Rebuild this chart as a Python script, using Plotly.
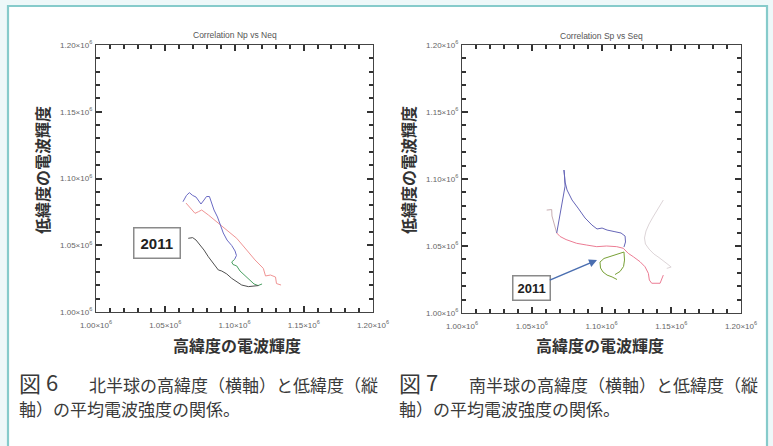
import plotly.graph_objects as go

W, H = 773, 446

# Axis ticks (values in units of 10^6)
tick_vals = [1.00, 1.05, 1.10, 1.15, 1.20]
tick_text = ["1.00×10<sup>6</sup>", "1.05×10<sup>6</sup>", "1.10×10<sup>6</sup>",
             "1.15×10<sup>6</sup>", "1.20×10<sup>6</sup>"]

# Northern hemisphere: high-latitude (x) vs low-latitude (y) mean brightness, ×10^6
n_blue_x = [1.0628, 1.0653, 1.0674, 1.0698, 1.0722, 1.0740, 1.0758, 1.0780, 1.0798, 1.0819,
            1.0835, 1.0852, 1.0877, 1.0899, 1.0919, 1.0946, 1.0980, 1.1004, 1.1014, 1.1000]
n_blue_y = [1.0826, 1.0873, 1.0894, 1.0873, 1.0861, 1.0839, 1.0809, 1.0839, 1.0865, 1.0865,
            1.0816, 1.0764, 1.0712, 1.0652, 1.0592, 1.0539, 1.0498, 1.0457, 1.0423, 1.0393]
n_green_x = [1.1000, 1.0980, 1.0989, 1.1016, 1.1040, 1.1076, 1.1112, 1.1141, 1.1170, 1.1199]
n_green_y = [1.0393, 1.0375, 1.0356, 1.0345, 1.0307, 1.0270, 1.0236, 1.0210, 1.0198, 1.0210]
n_black_x = [1.0666, 1.0698, 1.0722, 1.0751, 1.0780, 1.0811, 1.0847, 1.0883, 1.0908, 1.0944,
             1.0980, 1.1016, 1.1052, 1.1100, 1.1148, 1.1173]
n_black_y = [1.0552, 1.0557, 1.0539, 1.0502, 1.0464, 1.0414, 1.0365, 1.0315, 1.0307, 1.0285,
             1.0252, 1.0227, 1.0202, 1.0190, 1.0195, 1.0198]
n_red_x = [1.0650, 1.0691, 1.0715, 1.0739, 1.0763, 1.0811, 1.0871, 1.0944, 1.1016, 1.1088,
           1.1148, 1.1208, 1.1224, 1.1260, 1.1296, 1.1303, 1.1336]
n_red_y = [1.0816, 1.0771, 1.0739, 1.0751, 1.0764, 1.0727, 1.0676, 1.0614, 1.0552, 1.0464,
           1.0390, 1.0327, 1.0270, 1.0277, 1.0262, 1.0213, 1.0202]

# Southern hemisphere, ×10^6
s_hook_x = [1.0607, 1.0643, 1.0645, 1.0656, 1.0670, 1.0679]
s_hook_y = [1.0768, 1.0772, 1.0724, 1.0679, 1.0634, 1.0597]
s_red_x = [1.0679, 1.0703, 1.0746, 1.0822, 1.0894, 1.0966, 1.1037, 1.1109, 1.1156, 1.1192,
           1.1228, 1.1276, 1.1312, 1.1336, 1.1343, 1.1360, 1.1420, 1.1432, 1.1443]
s_red_y = [1.0597, 1.0571, 1.0548, 1.0520, 1.0507, 1.0495, 1.0500, 1.0495, 1.0483, 1.0445,
           1.0420, 1.0383, 1.0345, 1.0296, 1.0246, 1.0222, 1.0222, 1.0259, 1.0283]
s_blue_x = [1.0679, 1.0699, 1.0721, 1.0739, 1.0735, 1.0731, 1.0739, 1.0753, 1.0789, 1.0832,
            1.0882, 1.0932, 1.0968, 1.1004, 1.1040, 1.1090, 1.1140, 1.1169, 1.1172, 1.1161]
s_blue_y = [1.0597, 1.0724, 1.0858, 1.0947, 1.1022, 1.1067, 1.0977, 1.0918, 1.0843, 1.0783,
            1.0709, 1.0656, 1.0627, 1.0634, 1.0619, 1.0608, 1.0597, 1.0574, 1.0530, 1.0492]
s_green_x = [1.1097, 1.1133, 1.1158, 1.1165, 1.1161, 1.1119, 1.1076, 1.1018, 1.0989, 1.0993,
             1.1011, 1.1040, 1.1076, 1.1111]
s_green_y = [1.0287, 1.0310, 1.0347, 1.0395, 1.0455, 1.0440, 1.0422, 1.0407, 1.0380, 1.0336,
             1.0306, 1.0283, 1.0269, 1.0250]
s_gray_x = [1.1443, 1.1420, 1.1396, 1.1369, 1.1341, 1.1319, 1.1308, 1.1315, 1.1341, 1.1376,
            1.1412, 1.1448, 1.1477, 1.1499, 1.1468]
s_gray_y = [1.0843, 1.0806, 1.0768, 1.0716, 1.0664, 1.0612, 1.0560, 1.0515, 1.0477, 1.0440,
            1.0414, 1.0388, 1.0362, 1.0343, 1.0333]

# Marked start of the latest cycle
label_2011 = "2011"
n_2011_xy = (1.0440, 1.0517)
s_2011_tip = (1.0968, 1.0395)


def px(x):
    return x / W


def py(y):
    return 1 - y / H


fig = go.Figure()


def add_line(x, y, color, xa, ya, width=1.0):
    fig.add_trace(go.Scatter(x=x, y=y, mode="lines", xaxis=xa, yaxis=ya,
                             line=dict(color=color, width=width),
                             hoverinfo="skip", showlegend=False))


add_line(n_red_x, n_red_y, "#f09494", "x", "y")
add_line(n_blue_x, n_blue_y, "#6a6ac4", "x", "y")
add_line(n_green_x, n_green_y, "#4aa062", "x", "y")
add_line(n_black_x, n_black_y, "#505050", "x", "y")

add_line(s_gray_x, s_gray_y, "#ddd5d8", "x2", "y2")
add_line(s_hook_x, s_hook_y, "#c8aeb2", "x2", "y2")
add_line(s_red_x, s_red_y, "#ec7c94", "x2", "y2")
add_line(s_blue_x, s_blue_y, "#6666b8", "x2", "y2")
add_line(s_green_x, s_green_y, "#78a036", "x2", "y2")

tick_font = dict(family="Liberation Sans, Arial", size=8, color="#666")


def axis(domain, anchor, standoff):
    return dict(domain=domain, anchor=anchor, range=[1.0, 1.2],
                tickmode="array", tickvals=tick_vals, ticktext=tick_text,
                ticks="inside", ticklen=6, tickwidth=1.5, tickcolor="#333",
                minor=dict(ticks="inside", ticklen=3.5, tick0=1.0, dtick=0.01,
                           tickcolor="#333", tickwidth=1.5),
                showline=True, linecolor="#444", linewidth=1.2, mirror="ticks",
                showgrid=False, zeroline=False, tickfont=tick_font,
                ticklabelstandoff=standoff, automargin=False, fixedrange=True)


fig.update_layout(
    xaxis=axis([px(96), px(373)], "y", 5),
    yaxis=axis([py(312), py(45)], "x", 1),
    xaxis2=axis([px(462), px(741)], "y2", 5),
    yaxis2=axis([py(313), py(45)], "x2", 1),
)

ann = []
jp = "Noto Sans CJK JP"


def text_at(text, x, y, size, color, family=jp, xanchor="center", angle=0):
    ann.append(dict(text=text, x=px(x), y=py(y), xref="paper", yref="paper",
                    xanchor=xanchor, yanchor="middle", textangle=angle, showarrow=False,
                    font=dict(family=family, size=size, color=color)))


# Panel titles
text_at("Correlation Np vs Neq", 235, 35, 8.5, "#555", family="Liberation Sans")
text_at("Correlation Sp vs Seq", 601, 36, 8.5, "#555", family="Liberation Sans")

# Axis titles
for cx in (42, 408):
    text_at("<b>低緯度の電波輝度</b>", cx, 170, 16, "#333", angle=-90)
for cx in (237, 600):
    text_at("<b>高緯度の電波輝度</b>", cx, 345, 16, "#333")

# "2011" markers
ann.append(dict(text="<b>" + label_2011 + "</b>", x=n_2011_xy[0], y=n_2011_xy[1], xref="x", yref="y",
                xanchor="center", yanchor="middle",
                showarrow=False, bgcolor="white", bordercolor="#8a8a8a", borderwidth=1.5,
                borderpad=6, font=dict(family="Liberation Sans", size=15, color="#222")))
ann.append(dict(text="<b>" + label_2011 + "</b>", x=s_2011_tip[0], y=s_2011_tip[1], xref="x2", yref="y2",
                ax=-66, ay=28, showarrow=True, arrowhead=2, arrowsize=1, arrowwidth=1.6,
                arrowcolor="#4a6eb0", bgcolor="white", bordercolor="#8a8a8a", borderwidth=1.5,
                borderpad=4, font=dict(family="Liberation Sans", size=13, color="#222")))

# Figure captions
cap_color = "#3a3a3a"
captions = [
    (17, "6", "北半球の高緯度（横軸）と低緯度（縦"),
    (397, "7", "南半球の高緯度（横軸）と低緯度（縦"),
]
for x0, num, line1 in captions:
    text_at("図", x0, 382, 22, cap_color, xanchor="left")
    text_at(num, x0 + 27, 381, 22, cap_color, xanchor="left")
    text_at(line1, x0 + 70, 384, 17, cap_color, xanchor="left")
    text_at("軸）の平均電波強度の関係。", x0, 408, 17, cap_color, xanchor="left")

# Page frame: pale cyan margin strips and a teal rule around the white page
frame_fill = "#eef8f9"
frame_line = "#86cbcb"
shapes = [
    dict(type="rect", xref="paper", yref="paper", x0=0, x1=1, y0=py(6), y1=1,
         line=dict(width=0), fillcolor=frame_fill, layer="above"),
    dict(type="rect", xref="paper", yref="paper", x0=0, x1=px(8), y0=0, y1=1,
         line=dict(width=0), fillcolor=frame_fill, layer="above"),
    dict(type="rect", xref="paper", yref="paper", x0=px(767), x1=1, y0=0, y1=1,
         line=dict(width=0), fillcolor=frame_fill, layer="above"),
    dict(type="rect", xref="paper", yref="paper", x0=px(8), x1=px(767), y0=py(460), y1=py(6),
         line=dict(color=frame_line, width=2.2), layer="above"),
]

fig.update_layout(
    width=W, height=H, margin=dict(l=0, r=0, t=0, b=0),
    paper_bgcolor="white", plot_bgcolor="rgba(0,0,0,0)",
    annotations=ann, shapes=shapes, showlegend=False,
)

fig.write_html("out.html")
